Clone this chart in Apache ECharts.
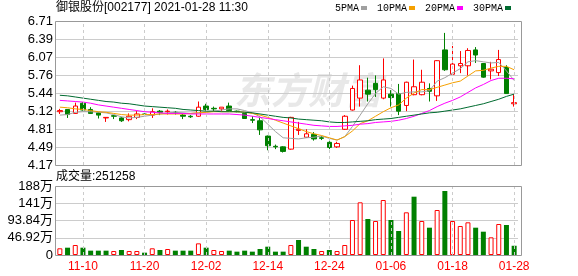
<!DOCTYPE html>
<html><head><meta charset="utf-8">
<script src="https://cdn.jsdelivr.net/npm/echarts@6/dist/echarts.min.js"></script>
<style>html,body{margin:0;padding:0;background:#fff}#c{width:578px;height:276px}</style>
</head><body><div id="c"></div>
<script>
const dates = ['11-05','11-06','11-09','11-10','11-11','11-12','11-13','11-16','11-17','11-18','11-19','11-20','11-23','11-24','11-25','11-26','11-27','11-30',
'12-01','12-02','12-03','12-04','12-07','12-08','12-09','12-10','12-11','12-14','12-15','12-16','12-17','12-18','12-21','12-22','12-23','12-24','12-25','12-28','12-29','12-30','12-31',
'01-04','01-05','01-06','01-07','01-08','01-11','01-12','01-13','01-14','01-15','01-18','01-19','01-20','01-21','01-22','01-25','01-26','01-27','01-28'];
const openP = [5.11,5.15,5.08,5.26,5.15,5.09,5.00,5.04,5.00,4.97, 5.01,5.07,5.05,5.12,5.11,5.10,5.05,5.03,5.03,5.21, 5.17,5.16,5.21,5.12,5.08,4.97,4.95,4.68,4.50,4.49, 4.45,4.78,4.66,4.71,4.65,4.57,4.49,4.80,5.14,5.35, 5.49,5.61,5.35,5.42,5.43,5.22,5.41,5.41,5.52,5.39, 6.20,5.77,5.92,5.92,6.20,5.96,5.83,5.80,5.89,5.25];
const closeP = [5.13,5.06,5.21,5.14,5.08,5.05,5.01,5.03,4.95,5.03, 5.07,5.06,5.11,5.10,5.12,5.09,5.03,5.02,5.19,5.15, 5.16,5.19,5.13,5.11,4.99,4.96,4.79,4.51,4.49,4.41, 5.01,4.80,4.72,4.63,4.64,4.48,4.55,5.03,5.52,5.67, 5.42,5.50,5.67,5.36,5.12,5.63,5.55,5.63,5.47,6.01, 5.85,5.95,5.96,6.19,6.11,5.72,5.86,6.03,5.43,5.27];
const lowP = [5.07,5.00,5.07,5.13,5.07,4.99,4.93,4.98,4.93,4.94, 4.98,5.04,5.00,5.05,5.06,5.06,4.98,5.00,5.02,5.13, 5.12,5.11,5.12,5.10,4.99,4.91,4.70,4.43,4.45,4.39, 4.44,4.70,4.65,4.60,4.61,4.45,4.47,4.79,5.13,5.20, 5.29,5.37,5.33,5.20,5.05,5.12,5.40,5.40,5.29,5.30, 5.83,5.76,5.79,5.75,5.97,5.71,5.68,5.74,5.43,5.20];
const highP = [5.16,5.15,5.27,5.28,5.19,5.10,5.01,5.05,5.02,5.08, 5.12,5.08,5.17,5.14,5.15,5.12,5.07,5.05,5.29,5.25, 5.20,5.19,5.27,5.13,5.09,5.03,5.00,4.69,4.53,4.50, 5.02,4.93,4.80,4.75,4.68,4.59,4.58,5.05,5.57,5.93, 5.71,5.75,6.05,5.49,5.60,5.64,6.03,5.85,5.61,6.02, 6.50,6.27,6.18,6.23,6.25,5.97,5.99,6.20,5.93,5.42];
const ma5 = [5.05,5.06,5.10,5.11,5.11,5.10,5.09,5.06,5.02,5.00, 5.01,5.03,5.05,5.07,5.09,5.10,5.09,5.08,5.09,5.10, 5.12,5.14,5.16,5.16,5.13,5.09,5.02,4.89,4.76,4.65, 4.64,4.63,4.65,4.66,4.68,4.64,4.61,4.67,4.85,5.05, 5.25,5.43,5.55,5.52,5.42,5.45,5.46,5.46,5.48,5.65, 5.71,5.79,5.87,5.99,6.01,5.99,5.97,5.98,5.83,5.66];
const ma10 = [5.19,5.18,5.16,5.15,5.13,5.11,5.10,5.08,5.06,5.05, 5.05,5.06,5.06,5.07,5.07,5.07,5.07,5.08,5.09,5.10, 5.11,5.11,5.11,5.11,5.10,5.08,5.05,5.01,4.96,4.91, 4.86,4.81,4.76,4.72,4.69,4.65,4.61,4.67,4.77,4.90, 4.95,5.03,5.11,5.18,5.23,5.35,5.44,5.50,5.50,5.54, 5.58,5.62,5.65,5.74,5.83,5.84,5.88,5.91,5.91,5.85];
const ma20 = [5.31,5.30,5.29,5.28,5.26,5.23,5.21,5.19,5.17,5.15, 5.13,5.11,5.10,5.09,5.08,5.08,5.08,5.07,5.07,5.07, 5.07,5.07,5.07,5.06,5.05,5.03,5.01,4.99,4.97,4.95, 4.93,4.91,4.89,4.87,4.86,4.85,4.85,4.86,4.87,4.89, 4.90,4.92,4.93,4.94,4.96,4.99,5.03,5.08,5.13,5.20, 5.26,5.31,5.37,5.45,5.53,5.59,5.66,5.70,5.70,5.69];
const ma30 = [5.40,5.39,5.37,5.35,5.33,5.31,5.29,5.28,5.26,5.25, 5.23,5.21,5.20,5.19,5.18,5.17,5.15,5.14,5.13,5.12, 5.12,5.11,5.11,5.11,5.10,5.09,5.07,5.05,5.03,5.01, 5.00,4.98,4.97,4.96,4.95,4.93,4.92,4.92,4.93,4.94, 4.95,4.97,4.98,4.99,5.01,5.03,5.05,5.07,5.09,5.10, 5.12,5.14,5.16,5.19,5.22,5.25,5.29,5.33,5.38,5.42];
const vol = [182000,199000,272000,199000,118000,118000,118000,109000,136000,109000, 109000,63000,182000,136000,163000,118000,118000,118000,317000,199000, 136000,109000,118000,91000,118000,91000,163000,226000,91000,91000, 272000,408000,226000,163000,109000,136000,109000,272000,952000,1433000, 979000,925000,1496000,952000,653000,1161000,1586000,925000,743000,1224000, 1741000,925000,789000,889000,743000,634000,481000,843000,816000,251258];
const priceTicks = ['4.17','4.49','4.81','5.12','5.44','5.76','6.07','6.39','6.71'];
const volTicks = ['0','46.92万','93.84万','141万','188万'];
const labelDates = ['11-10','11-20','12-02','12-14','12-24','01-06','01-18','01-28'];
const maNames = ['5PMA','10PMA','20PMA','30PMA'];
const stockTitle = '御银股份[002177] 2021-01-28 11:30';
const volTitle = '成交量:251258';

const PMIN = 4.17, PMAX = 6.71, PINT = (PMAX - PMIN) / 8;
const VMAX = 1876800, VINT = VMAX / 4;
const RED = '#ff0000', GREEN = '#008000';
const FONT = "'Liberation Sans','Noto Sans CJK SC',sans-serif";
const maColors = ['#a0a0a0', '#f5a000', '#ff00ff', '#006b30'];
const maData = [ma5, ma10, ma20, ma30];

const candles = dates.map((d, i) => [openP[i], closeP[i], lowP[i], highP[i]]);
const volData = vol.map((v, i) => {
  const up = i === 0 ? true : closeP[i] > closeP[i - 1];
  return { value: v, itemStyle: up ? { color: '#fff', borderColor: RED, borderWidth: 1 } : { color: GREEN, borderColor: GREEN, borderWidth: 0 } };
});
const vMark = {
  silent: true, symbol: ['none', 'none'], label: { show: false },
  lineStyle: { type: [3, 3], color: '#cccccc', width: 1 },
  data: labelDates.map(d => ({ xAxis: d })), animation: false
};

const chart = echarts.init(document.getElementById('c'), null, { renderer: 'canvas' });
chart.setOption({
  animation: false,
  backgroundColor: '#fff',
  title: [
    { text: stockTitle, left: 56, top: 2, padding: 0, textStyle: { fontSize: 12, fontWeight: 'normal', color: '#000', fontFamily: FONT } },
    { text: volTitle, left: 56, top: 171, padding: 0, textStyle: { fontSize: 12, fontWeight: 'normal', color: '#000', fontFamily: FONT } }
  ],
  legend: {
    data: maNames, right: 67, top: 3, padding: 0, align: 'right', icon: 'rect',
    itemWidth: 6, itemHeight: 4, itemGap: 10, selectedMode: false,
    textStyle: { fontFamily: "'Liberation Mono',monospace", fontSize: 10, color: '#000', padding: [0, -3, 0, 0] }
  },
  grid: [
    { left: 56, top: 21, width: 462, height: 144 },
    { left: 56, top: 186, width: 462, height: 69 }
  ],
  xAxis: [
    { type: 'category', gridIndex: 0, data: dates, boundaryGap: true, axisLine: { show: false }, axisTick: { show: false }, axisLabel: { show: false }, splitLine: { show: false } },
    { type: 'category', gridIndex: 1, data: dates, boundaryGap: true, axisLine: { show: false }, axisTick: { show: false },
      axisLabel: { color: RED, fontSize: 12, fontFamily: FONT, margin: 6, interval: (i) => labelDates.indexOf(dates[i]) >= 0 },
      splitLine: { show: false } }
  ],
  yAxis: [
    { type: 'value', gridIndex: 0, min: PMIN, max: PMAX, interval: PINT, axisLine: { show: false }, axisTick: { show: false },
      axisLabel: { color: '#000', fontSize: 13, fontFamily: FONT, margin: 3, formatter: (v) => priceTicks[Math.round((v - PMIN) / PINT)] || '' },
      splitLine: { lineStyle: { color: '#cccccc', width: 1 } } },
    { type: 'value', gridIndex: 1, min: 0, max: VMAX, interval: VINT, axisLine: { show: false }, axisTick: { show: false },
      axisLabel: { color: '#000', fontSize: 13, fontFamily: FONT, margin: 3, formatter: (v) => volTicks[Math.round(v / VINT)] || '' },
      splitLine: { lineStyle: { color: '#cccccc', width: 1 } } }
  ],
  graphic: [
    { type: 'text', left: 234, top: 71, z: -10, silent: true,
      style: { text: '东方财富', fontSize: 37, fontWeight: 'bold', fontStyle: 'italic', fill: '#e8e8e8', fontFamily: "'Noto Sans CJK SC',sans-serif" } },
    { type: 'rect', z: 100, silent: true, shape: { x: 55.5, y: 21.5, width: 466, height: 144 }, style: { fill: null, stroke: '#999999', lineWidth: 1 } },
    { type: 'rect', z: 100, silent: true, shape: { x: 55.5, y: 186.5, width: 466, height: 69 }, style: { fill: null, stroke: '#999999', lineWidth: 1 } }
  ],
  series: [
    { type: 'candlestick', name: 'K', xAxisIndex: 0, yAxisIndex: 0, data: candles, barWidth: 5,
      itemStyle: { color: '#ffffff', color0: GREEN, borderColor: RED, borderColor0: GREEN, borderColorDoji: RED, borderWidth: 1 },
      markLine: vMark, z: 3 }
  ].concat(maNames.map((n, k) => ({
    type: 'line', name: n, xAxisIndex: 0, yAxisIndex: 0, data: maData[k], symbol: 'none', showSymbol: false,
    lineStyle: { width: 1, color: maColors[k] }, itemStyle: { color: maColors[k] }, z: 4
  }))).concat([
    { type: 'bar', name: 'VOL', xAxisIndex: 1, yAxisIndex: 1, data: volData, barWidth: 5, markLine: vMark }
  ])
});
</script></body></html>
